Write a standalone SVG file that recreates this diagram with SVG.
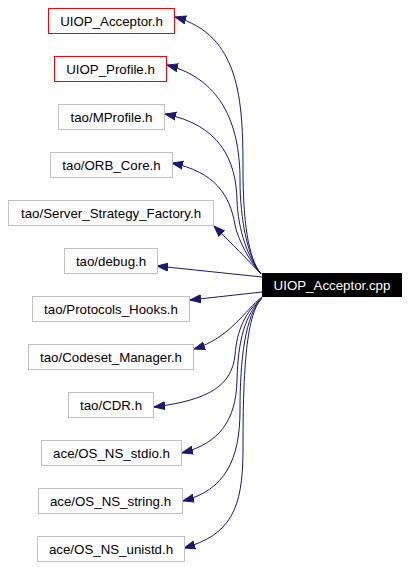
<svg xmlns="http://www.w3.org/2000/svg" width="410" height="567" viewBox="0 0 410 567">
<style>
.n rect{fill:#fff;stroke:#bfbfbf;stroke-width:1}
.r rect{stroke:#ff0000}
text{font-family:"Liberation Sans",Arial,sans-serif;font-size:13.3px;fill:#000;text-anchor:middle}
#edges path{fill:none;stroke:#191970;stroke-width:1}
</style>
<defs>
<marker id="ah" markerUnits="userSpaceOnUse" markerWidth="12" markerHeight="10" viewBox="0 0 12 10" refX="11" refY="5" orient="auto">
<path d="M0,1 L11,5 L0,9 z" fill="#191970" stroke="#191970"/>
</marker>
</defs>
<rect width="410" height="567" fill="#fff"/>
<g id="edges">
<path marker-end="url(#ah)" d="M261,274 C248,258 243,220 243,170 C243,100 240,35 175,17"/>
<path marker-end="url(#ah)" d="M261,274 C248,258 240,220 240,180 C240,130 225,80 167,65"/>
<path marker-end="url(#ah)" d="M261,274 C248,258 238,230 237,200 C236,160 220,125 165,114"/>
<path marker-end="url(#ah)" d="M261,274 C250,262 238,240 235,225 C230,195 215,172 172,163"/>
<path marker-end="url(#ah)" d="M260,273 C248,260 232,244 214,226"/>
<path marker-end="url(#ah)" d="M262,277 L157,266"/>
<path marker-end="url(#ah)" d="M262,292 L190,300"/>
<path marker-end="url(#ah)" d="M262,297 C245,310 230,338 194,349"/>
<path marker-end="url(#ah)" d="M262,298 C245,312 237,330 235,355 C232,385 210,400 154,407"/>
<path marker-end="url(#ah)" d="M262,298 C245,315 238,340 237,380 C236,420 220,443 182,453"/>
<path marker-end="url(#ah)" d="M262,298 C245,315 240,360 240,410 C240,460 225,490 183,501"/>
<path marker-end="url(#ah)" d="M262,298 C245,315 243,380 243,450 C243,510 230,535 184,548"/>
</g>
<g id="main"><rect x="262" y="273" width="140" height="24" fill="#000"/><text x="332" y="290" style="fill:#fff">UIOP_Acceptor.cpp</text></g>
<g id="n1" class="n r"><rect x="48.5" y="8.5" width="126" height="25"/><text x="111.5" y="25.5">UIOP_Acceptor.h</text></g>
<g id="n2" class="n r"><rect x="54.5" y="56.5" width="112" height="25"/><text x="110.5" y="73.5">UIOP_Profile.h</text></g>
<g id="n3" class="n"><rect x="58.5" y="104.5" width="106" height="25"/><text x="111.5" y="121.5">tao/MProfile.h</text></g>
<g id="n4" class="n"><rect x="50.5" y="152.5" width="122" height="25"/><text x="111.5" y="169.5">tao/ORB_Core.h</text></g>
<g id="n5" class="n"><rect x="8.5" y="200.5" width="205" height="25"/><text x="111" y="217.5">tao/Server_Strategy_Factory.h</text></g>
<g id="n6" class="n"><rect x="64.5" y="248.5" width="93" height="25"/><text x="111" y="265.5">tao/debug.h</text></g>
<g id="n7" class="n"><rect x="32.5" y="296.5" width="157" height="25"/><text x="111" y="313.5">tao/Protocols_Hooks.h</text></g>
<g id="n8" class="n"><rect x="28.5" y="344.5" width="165" height="25"/><text x="111" y="361.5">tao/Codeset_Manager.h</text></g>
<g id="n9" class="n"><rect x="68.5" y="392.5" width="85" height="25"/><text x="111" y="409.5">tao/CDR.h</text></g>
<g id="n10" class="n"><rect x="41.5" y="440.5" width="140" height="25"/><text x="111.5" y="457.5">ace/OS_NS_stdio.h</text></g>
<g id="n11" class="n"><rect x="38.5" y="488.5" width="144" height="25"/><text x="110.5" y="505.5">ace/OS_NS_string.h</text></g>
<g id="n12" class="n"><rect x="37.5" y="536.5" width="147" height="25"/><text x="111" y="553.5">ace/OS_NS_unistd.h</text></g>
</svg>
